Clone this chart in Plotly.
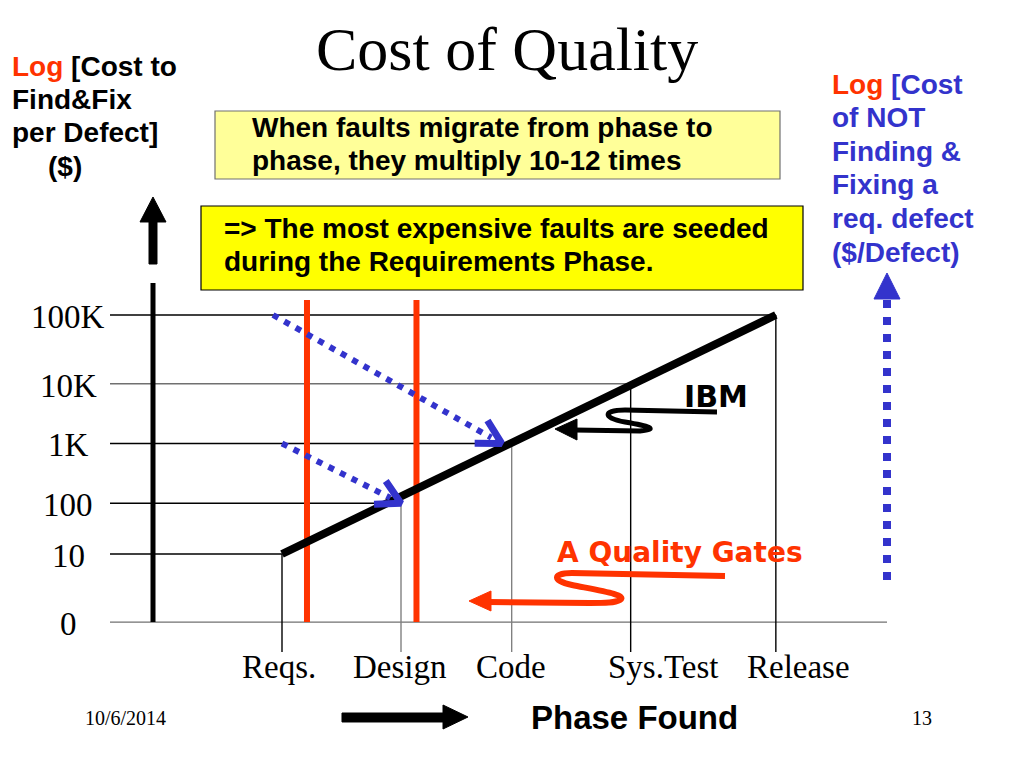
import math
import plotly.graph_objects as go

# ---------------- data ----------------
phases = ["Reqs.", "Design", "Code", "Sys.Test", "Release"]
phase_x = [1.0, 2.0, 2.93, 3.93, 5.15]               # position of each phase on the x scale
cost_labels = ["0", "10", "100", "1K", "10K", "100K"]
cost_level = [-0.14, 1.0, 1.85, 2.85, 3.85, 5.0]      # log-cost level of each tick
phase_cost = ["10", "100", "1K", "10K", "100K"]      # cost to find & fix at each phase
gate_x = [1.21, 2.13]                                 # quality gates (red bars)
migrations = [("Reqs.", "100K", "Code", "1K"), ("Reqs.", "1K", "Design", "100")]

# ---------------- scales (layout) ----------------
W, H = 1024, 768
XPX, X0PX = 119.0, 163.0       # px per x unit, px of x=0
YPX, Y1PX = 59.75, 554.0       # px per y unit, px of y=1
x_range = [(0 - X0PX) / XPX, (W - X0PX) / XPX]
y_range = [1 - (H - Y1PX) / YPX, 1 + Y1PX / YPX]

def d2p(x, y):
    return X0PX + x * XPX, Y1PX - (y - 1) * YPX

def p2d(px, py):
    return (px - X0PX) / XPX, 1 + (Y1PX - py) / YPX

lvl = dict(zip(cost_labels, cost_level))
phx = dict(zip(phases, phase_x))

grid_start = p2d(110, 0)[0]
axis_end = p2d(887, 0)[0]
drop_bottom = p2d(0, 652)[1]

RED = "#FF3300"
BLUE = "#3333CC"
SERIF = "Liberation Serif"
SANS = "Liberation Sans"
VERD = "DejaVu Sans"

fig = go.Figure()

# horizontal grid lines: each runs to the phase where that cost is reached
grid_end = [axis_end] + [phx[p] for p in phases]
grid_col = ["#707070", "black", "black", "black", "#707070", "black"]
for lab, end, col in zip(cost_labels, grid_end, grid_col):
    fig.add_trace(go.Scatter(x=[grid_start, end], y=[lvl[lab], lvl[lab]], mode="lines",
                             line=dict(color=col, width=1.4), hoverinfo="skip"))

# drop lines from each phase to its cost
drop_col = ["black", "#808080", "#808080", "black", "black"]
for p, c, col in zip(phases, phase_cost, drop_col):
    fig.add_trace(go.Scatter(x=[phx[p], phx[p]], y=[drop_bottom, lvl[c]], mode="lines",
                             line=dict(color=col, width=1.4), hoverinfo="skip"))

# red quality gates
gate_top = p2d(0, 300)[1]
for gx in gate_x:
    fig.add_trace(go.Scatter(x=[gx, gx], y=[lvl["0"], gate_top], mode="lines",
                             line=dict(color=RED, width=6), hoverinfo="skip"))

# cost trend line (Reqs -> Release)
fig.add_trace(go.Scatter(x=[phx[phases[0]], phx[phases[-1]]],
                         y=[lvl[phase_cost[0]], lvl[phase_cost[-1]]], mode="lines",
                         line=dict(color="black", width=8), hoverinfo="skip"))

# left y axis line
ax_x = p2d(153, 0)[0]
fig.add_trace(go.Scatter(x=[ax_x, ax_x], y=[lvl["0"], p2d(0, 283)[1]], mode="lines",
                         line=dict(color="black", width=5), hoverinfo="skip"))

# migration arrows (blue dotted with chevron heads)
start_dx = [-9, 0]
tip_dx = [-10, 0]
for (p0, c0, p1, c1), sdx, tdx in zip(migrations, start_dx, tip_dx):
    sx, sy = d2p(phx[p0], lvl[c0]); sx += sdx
    tx, ty = d2p(phx[p1], lvl[c1]); tx += tdx
    ang = math.atan2(ty - sy, tx - sx)
    ex, ey = tx - 12 * math.cos(ang), ty - 12 * math.sin(ang)
    a, b = p2d(sx, sy), p2d(ex, ey)
    fig.add_trace(go.Scatter(x=[a[0], b[0]], y=[a[1], b[1]], mode="lines",
                             line=dict(color=BLUE, width=6, dash="6px,7px"), hoverinfo="skip"))
    arms = []
    for s in (1, -1):
        aa = ang + math.pi + s * math.radians(29)
        arms.append(p2d(tx + 27 * math.cos(aa), ty + 27 * math.sin(aa)))
    t = p2d(tx, ty)
    fig.add_trace(go.Scatter(x=[arms[0][0], t[0], arms[1][0]], y=[arms[0][1], t[1], arms[1][1]],
                             mode="lines", line=dict(color=BLUE, width=7), hoverinfo="skip"))

# right vertical blue dotted arrow
fig.add_trace(go.Scatter(x=[axis_end, axis_end], y=[p2d(0, 580)[1], p2d(0, 297)[1]], mode="lines",
                         line=dict(color=BLUE, width=8, dash="8px,9px"), hoverinfo="skip"))

# ---------------- decorations (paper/pixel) ----------------
def P(x, y):
    return f"{x / W:.5f},{1 - y / H:.5f}"

def path(cmds):
    out = []
    for c in cmds:
        if c[0] == "Z":
            out.append("Z")
        else:
            op, pts = c[0], c[1:]
            out.append(op + " " + " ".join(P(*pt) for pt in pts))
    return " ".join(out)

shapes = []
def add_poly(pts, color):
    cmds = [("M", pts[0])] + [("L", p) for p in pts[1:]] + [("Z",)]
    shapes.append(dict(type="path", xref="paper", yref="paper", path=path(cmds),
                       fillcolor=color, line=dict(color=color, width=1)))

def add_curve(cmds, color, width):
    shapes.append(dict(type="path", xref="paper", yref="paper", path=path(cmds),
                       fillcolor="rgba(0,0,0,0)", line=dict(color=color, width=width)))

# yellow boxes
shapes.append(dict(type="rect", xref="paper", yref="paper", x0=215 / W, x1=780 / W,
                   y0=1 - 179 / H, y1=1 - 111 / H, fillcolor="#FFFF99",
                   line=dict(color="#707070", width=1.2), layer="below"))
shapes.append(dict(type="rect", xref="paper", yref="paper", x0=201 / W, x1=803 / W,
                   y0=1 - 290 / H, y1=1 - 206 / H, fillcolor="#FFFF00",
                   line=dict(color="black", width=1.2), layer="below"))

# arrowheads / arrows
add_poly([(153, 197), (166, 222), (157, 222), (157, 264), (149, 264), (149, 222), (140, 222)], "black")
add_poly([(887, 273), (900, 299), (874, 299)], BLUE)
add_poly([(342, 713), (443, 713), (443, 705), (468, 717), (443, 729), (443, 722), (342, 722)], "black")

add_curve([("M", (717, 412)), ("L", (625, 410)), ("C", (603, 410), (602, 418), (625, 422)),
           ("C", (648, 426), (660, 429), (640, 431)), ("L", (574, 430))], "black", 5)
add_poly([(555, 429), (577, 419), (577, 440)], "black")

add_curve([("M", (725, 576)), ("L", (572, 573)), ("C", (552, 573), (552, 581), (572, 585)),
           ("C", (602, 591), (628, 595), (620, 600)), ("C", (615, 603), (605, 603), (590, 603)),
           ("L", (488, 602))], RED, 6)
add_poly([(469, 601), (491, 591), (491, 611)], RED)

# ---------------- text ----------------
ann = []
def T(text, x, y, size, family=SANS, color="black", xanchor="left", bold=False):
    if bold:
        text = "<b>" + text + "</b>"
    ann.append(dict(text=text, x=x / W, y=1 - y / H, xref="paper", yref="paper",
                    xanchor=xanchor, yanchor="middle", showarrow=False,
                    font=dict(family=family, size=size, color=color)))

T("Cost of Quality", 507, 49, 62, SERIF, xanchor="center")

rl = f"<span style='color:{RED}'>Log</span>"
T(rl + " [Cost to", 10, 66, 28, bold=True)
T("Find&Fix", 10, 99, 28, bold=True)
T("per Defect]", 10, 132, 28, bold=True)
T("($)", 46, 166, 28, bold=True)

right_lines = [rl + " [Cost", "of NOT", "Finding &", "Fixing a", "req. defect", "($/Defect)"]
for i, s in enumerate(right_lines):
    T(s, 830, 84 + 33.6 * i, 28, color=BLUE, bold=True)

T("When faults migrate from phase to", 250, 127, 28, bold=True)
T("phase, they multiply 10-12 times", 250, 160, 28, bold=True)
T("=> The most expensive faults are seeded", 222, 228, 28, bold=True)
T("during the Requirements Phase.", 222, 262, 28, bold=True)

T("IBM", 716, 396, 30, VERD, xanchor="center", bold=True)
T("A Quality Gates", 680, 552, 28, VERD, color=RED, xanchor="center", bold=True)

# y tick labels
for lab in cost_labels:
    _, py = d2p(0, lvl[lab])
    T(lab, 68, py + 2, 33, SERIF, xanchor="center")

# phase labels
label_cx = [279, 400, 511, 663, 798]
for p, cx in zip(phases, label_cx):
    T(p, cx, 667, 33, SERIF, xanchor="center")

T("Phase Found", 634, 717, 33, bold=True, xanchor="center")
T("10/6/2014", 125, 718, 20, SERIF, xanchor="center")
T("13", 922, 718, 20, SERIF, xanchor="center")

fig.update_layout(
    width=W, height=H, margin=dict(l=0, r=0, t=0, b=0, pad=0),
    paper_bgcolor="white", plot_bgcolor="white", showlegend=False,
    xaxis=dict(range=x_range, visible=False, fixedrange=True),
    yaxis=dict(range=y_range, visible=False, fixedrange=True),
    shapes=shapes, annotations=ann,
)

fig.write_html("out.html", config=dict(displayModeBar=False),
               post_script="document.body.style.margin='0';")
